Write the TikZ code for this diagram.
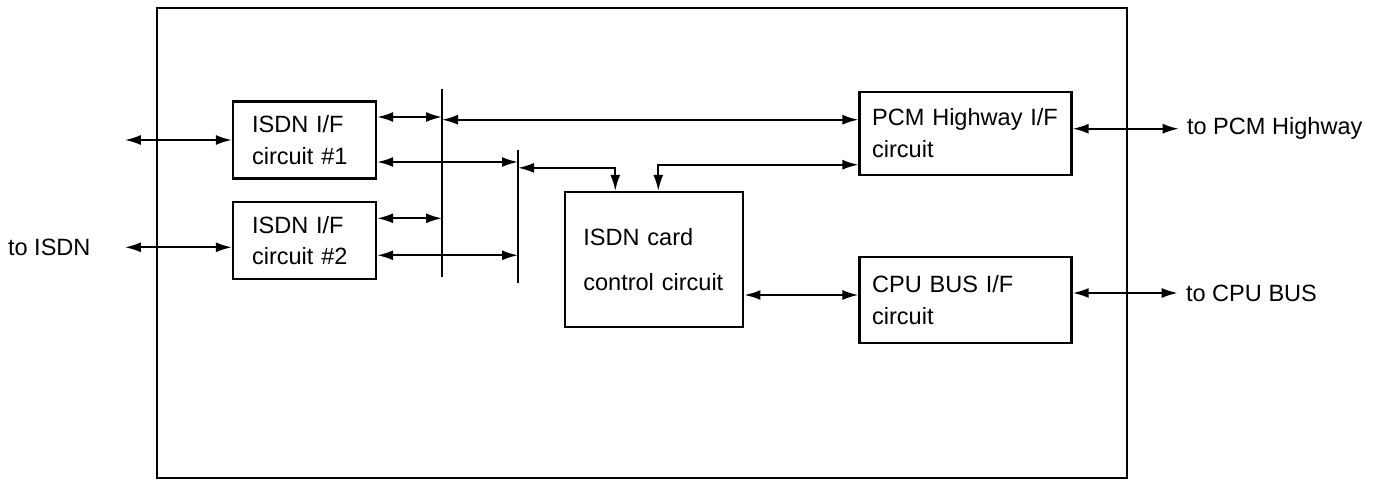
\documentclass[tikz,border=0pt]{standalone}
\usepackage{fontspec}
\setmainfont{Liberation Sans}
\usetikzlibrary{arrows.meta, positioning}
\newcommand{\lab}{\fontsize{13.4pt}{17.8pt}\selectfont}

\begin{document}
\begin{tikzpicture}[
>={Latex[length=3.2mm,width=2mm]},
every node/.style={font=\lab},
block/.style={draw, line width=1.3pt, align=left, inner ysep=0pt},
isdn/.style={block, text width=2.1cm, inner xsep=0.38cm, minimum height=1.54cm},
intf/.style={block, text width=3.74cm, inner xsep=0.25cm},
ctrlbox/.style={block, text width=2.84cm, inner xsep=0.36cm, minimum height=2.7cm},
link/.style={<->, line width=1.1pt},
bus/.style={line width=1.3pt},
ext/.style={inner sep=0pt}
]
\useasboundingbox (0,0) rectangle (27.52,-9.68);

\node (card) [draw, line width=1.3pt, minimum width=19.4cm, minimum height=9.4cm] at (12.84,-4.86) {};

\node (isdnA) [isdn] at (6.09,-2.8) {ISDN I/F\\circuit \#1};
\node (isdnB) [isdn, below=0.42cm of isdnA] {ISDN I/F\\circuit \#2};
\node (ctrl) [ctrlbox, below right=1.81cm and 3.74cm of isdnA.north east] {ISDN card\\[7.8pt]control circuit};
\node (pcm) [intf, minimum height=1.66cm, above right=0.3cm and 2.28cm of ctrl.north east] {PCM Highway I/F\\circuit};
\node (cpu) [intf, minimum height=1.72cm, below=1.6cm of pcm] {CPU BUS I/F\\circuit};

% buses
\coordinate (busA) at (8.84,-1.78);
\coordinate (busAend) at (8.84,-5.54);
\coordinate (busB) at (10.36,-3.0);
\coordinate (busBend) at (10.36,-5.66);
\draw[bus] (busA) -- (busAend);
\draw[bus] (busB) -- (busBend);

% connection points
\coordinate (a1) at ([yshift=0.46cm]isdnA.east);
\coordinate (a2) at ([yshift=-0.44cm]isdnA.east);
\coordinate (b0) at ([yshift=-0.14cm]isdnB.west);
\coordinate (b1) at ([yshift=0.44cm]isdnB.east);
\coordinate (b2) at ([yshift=-0.3cm]isdnB.east);
\coordinate (p0) at ([yshift=0.09cm]pcm.east);
\coordinate (p1) at ([yshift=0.27cm]pcm.west);
\coordinate (p2) at ([yshift=-0.63cm]pcm.west);
\coordinate (u0) at ([yshift=0.14cm]cpu.east);
\coordinate (k1) at ([yshift=0.46cm]ctrl.north);
\coordinate (c1) at ([yshift=-0.71cm]ctrl.east);

% outside
\coordinate[left=2.14cm of isdnA.west] (extA);
\coordinate[left=2.14cm of b0] (extB);
\coordinate[right=2.12cm of p0] (pcmOut);
\coordinate[right=2.1cm of u0] (cpuOut);

\node (isdnTxt) [ext, left=0.68cm of extB] {to ISDN};
\node (pcmTxt) [ext, right=0.16cm of pcmOut] {to PCM Highway};
\node (cpuTxt) [ext, right=0.16cm of cpuOut] {to CPU BUS};

\draw[link] (extA) -- (isdnA.west);
\draw[link] (extB) -- (b0);
\draw[link] (a1) -- (a1 -| busA);
\draw[link] (a2) -- (a2 -| busB);
\draw[link] (b1) -- (b1 -| busA);
\draw[link] (b2) -- (b2 -| busB);
\draw[link] (p1 -| busA) -- (p1);
\draw[link] (k1 -| busB) -| ([xshift=-0.78cm]ctrl.north);
\draw[link] (p2) -| ([xshift=0.08cm]ctrl.north);
\draw[link] (c1) -- (c1 -| cpu.west);
\draw[link] (p0) -- (pcmOut);
\draw[link] (u0) -- (cpuOut);

\end{tikzpicture}
\end{document}
